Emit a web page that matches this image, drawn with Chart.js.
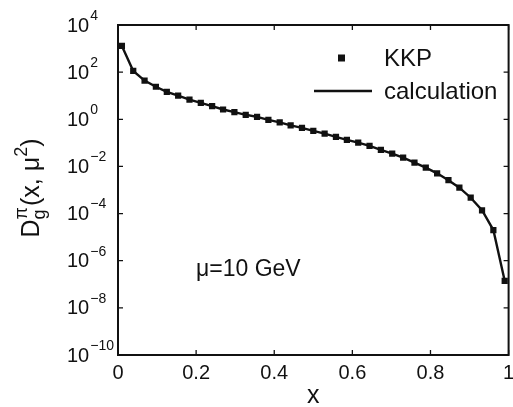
<!DOCTYPE html>
<html>
<head>
<meta charset="utf-8">
<script src="https://cdn.jsdelivr.net/npm/chart.js@4/dist/chart.umd.min.js"></script>
<style>
  html, body { margin: 0; padding: 0; background: #fff; }
  #wrap { width: 513px; height: 407px; }
</style>
</head>
<body>
<div id="wrap"><canvas id="chart" width="513" height="407"></canvas></div>
<script>
// x positions of the KKP points
const xValues = [0.01, 0.039, 0.068, 0.097, 0.125, 0.154, 0.183, 0.212, 0.241, 0.269,
  0.298, 0.327, 0.356, 0.385, 0.414, 0.442, 0.471, 0.5, 0.529, 0.558,
  0.586, 0.615, 0.644, 0.673, 0.702, 0.73, 0.759, 0.788, 0.817, 0.846,
  0.874, 0.903, 0.932, 0.961, 0.99];

// KKP parametrisation values
const kkpValues = [1300, 112, 44, 24, 14.5, 10, 6.8, 5.0, 3.6, 2.6,
  2.0, 1.55, 1.26, 0.95, 0.74, 0.55, 0.43, 0.32, 0.245, 0.18,
  0.135, 0.102, 0.074, 0.050, 0.035, 0.0234, 0.0145, 0.0089, 0.0051, 0.0026,
  0.00126, 4.7e-4, 1.38e-4, 2.0e-5, 1.4e-7];

// calculation curve (lies on top of the KKP points)
const calcValues = [1300, 112, 44, 24, 14.5, 10, 6.8, 5.0, 3.6, 2.6,
  2.0, 1.55, 1.26, 0.95, 0.74, 0.55, 0.43, 0.32, 0.245, 0.18,
  0.135, 0.102, 0.074, 0.050, 0.035, 0.0234, 0.0145, 0.0089, 0.0051, 0.0026,
  0.00126, 4.7e-4, 1.38e-4, 2.0e-5, 1.4e-7];

const xTicks = [0, 0.2, 0.4, 0.6, 0.8, 1];
const xTickLabels = ['0', '0.2', '0.4', '0.6', '0.8', '1'];
const yExponents = [4, 2, 0, -2, -4, -6, -8, -10];
const yExponentLabels = ['4', '2', '0', '\u22122', '\u22124', '\u22126', '\u22128', '\u221210'];

const FONT = '"Liberation Sans", Arial, Helvetica, sans-serif';
const INK = '#111';

// axes box, inward ticks, tick labels, titles and legend
const decorPlugin = {
  id: 'decor',
  afterDraw(chart) {
    const { ctx, chartArea: a, scales } = chart;
    const xs = scales.x, ys = scales.y;
    ctx.save();
    ctx.strokeStyle = INK;
    ctx.fillStyle = INK;

    // box
    ctx.lineWidth = 2;
    ctx.strokeRect(a.left, a.top, a.right - a.left, a.bottom - a.top);

    // ticks
    ctx.lineWidth = 1.3;
    ctx.beginPath();
    xTicks.forEach(v => {
      const px = xs.getPixelForValue(v);
      ctx.moveTo(px, a.bottom); ctx.lineTo(px, a.bottom - 5);
      ctx.moveTo(px, a.top); ctx.lineTo(px, a.top + 5);
    });
    yExponents.forEach(e => {
      const py = ys.getPixelForValue(Math.pow(10, e));
      ctx.moveTo(a.left, py); ctx.lineTo(a.left + 5, py);
      ctx.moveTo(a.right, py); ctx.lineTo(a.right - 5, py);
    });
    ctx.stroke();

    // x tick labels
    ctx.font = '20px ' + FONT;
    ctx.textAlign = 'center';
    ctx.textBaseline = 'middle';
    xTicks.forEach((v, i) => {
      ctx.fillText(xTickLabels[i], xs.getPixelForValue(v), a.bottom + 18);
    });

    // y tick labels: 10 with superscript exponent
    ctx.textAlign = 'left';
    yExponents.forEach((e, i) => {
      const py = ys.getPixelForValue(Math.pow(10, e));
      ctx.font = '20px ' + FONT;
      ctx.fillText('10', 67, py + 1);
      const w = ctx.measureText('10').width;
      ctx.font = '14px ' + FONT;
      ctx.fillText(yExponentLabels[i], 67 + w + 1, py - 9);
    });

    // x axis title
    ctx.font = '25px ' + FONT;
    ctx.textAlign = 'center';
    ctx.fillText('x', (a.left + a.right) / 2, 396);

    // y axis title: D_g^pi(x, mu^2)
    ctx.save();
    ctx.translate(30, 188);
    ctx.rotate(-Math.PI / 2);
    ctx.textAlign = 'left';
    ctx.textBaseline = 'alphabetic';
    const parts = [
      { t: 'D', size: 25, dy: 0 },
      { t: 'g', size: 18, dy: 6, stackWith: 'π' },
      { t: '(x, μ', size: 25, dy: 0 },
      { t: '2', size: 18, dy: -12 },
      { t: ')', size: 25, dy: 0 }
    ];
    let total = 0;
    parts.forEach(p => {
      ctx.font = p.size + 'px ' + FONT;
      let w = ctx.measureText(p.t).width;
      if (p.stackWith) w = Math.max(w, ctx.measureText(p.stackWith).width);
      p.w = w + (p.stackWith ? 1 : 0);
      total += p.w;
    });
    let cx = -total / 2;
    const base = 9;
    parts.forEach(p => {
      ctx.font = p.size + 'px ' + FONT;
      ctx.fillText(p.t, cx, base + p.dy);
      if (p.stackWith) ctx.fillText(p.stackWith, cx, base - 12);
      cx += p.w;
    });
    ctx.restore();

    // annotation
    ctx.font = '23px ' + FONT;
    ctx.textAlign = 'left';
    ctx.textBaseline = 'middle';
    ctx.fillText('μ=10 GeV', 196, 270);

    // legend
    ctx.font = '24px ' + FONT;
    ctx.fillRect(338, 54.5, 7, 7);
    ctx.fillText('KKP', 384, 59);
    ctx.lineWidth = 2.3;
    ctx.beginPath();
    ctx.moveTo(314, 91); ctx.lineTo(372, 91);
    ctx.stroke();
    ctx.fillText('calculation', 384, 92);

    ctx.restore();
  }
};

const ctx = document.getElementById('chart').getContext('2d');
new Chart(ctx, {
  type: 'scatter',
  data: {
    datasets: [
      {
        label: 'calculation',
        data: xValues.map((x, i) => ({ x: x, y: calcValues[i] })),
        showLine: true,
        borderColor: INK,
        borderWidth: 2.4,
        pointRadius: 0,
        tension: 0,
        fill: false
      },
      {
        label: 'KKP',
        data: xValues.map((x, i) => ({ x: x, y: kkpValues[i] })),
        showLine: false,
        pointStyle: 'rect',
        pointRadius: 4.4,
        backgroundColor: INK,
        borderColor: INK,
        borderWidth: 0
      }
    ]
  },
  options: {
    responsive: false,
    animation: false,
    layout: { padding: { left: 118, right: 3, top: 25, bottom: 52 } },
    plugins: {
      legend: { display: false },
      tooltip: { enabled: false }
    },
    scales: {
      x: { type: 'linear', min: 0, max: 1, display: false },
      y: { type: 'logarithmic', min: 1e-10, max: 1e4, display: false }
    }
  },
  plugins: [decorPlugin]
});
</script>
</body>
</html>
